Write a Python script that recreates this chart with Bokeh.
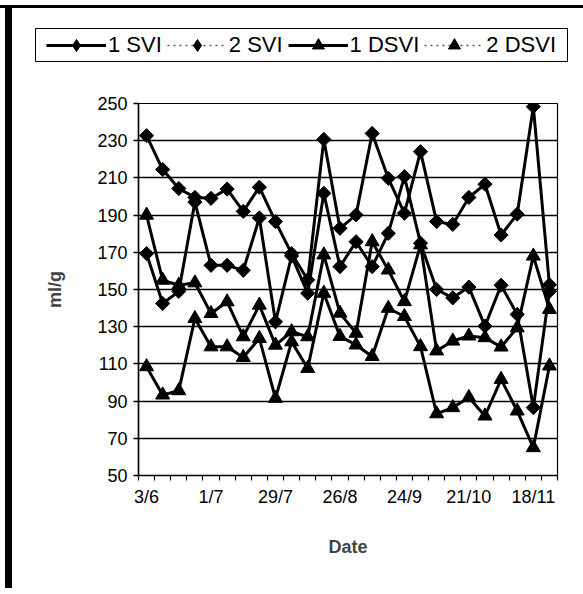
import numpy as np
from bokeh.plotting import figure
from bokeh.layouts import column, row
from bokeh.models import FixedTicker, Legend, LegendItem, ColumnDataSource, Div
from bokeh.embed import file_html
from bokeh.resources import INLINE

# ---- data ----
dates = ["3/6", "1/7", "29/7", "26/8", "24/9", "21/10", "18/11"]
label_idx = [0, 4, 8, 12, 16, 20, 24]
n_points = 26
svi_1 = [232.7, 214.5, 204.3, 199.5, 199.0, 204.0, 192.0, 205.0, 186.5, 169.3, 155.2, 230.7, 182.9,
         190.1, 233.9, 209.8, 191.0, 224.1, 186.5, 185.0, 199.5, 206.6, 179.3, 190.5, 248.3, 152.5]
svi_2 = [169.3, 142.5, 149.0, 197.0, 163.0, 163.0, 160.3, 188.5, 132.6, 168.0, 148.0, 201.7, 162.3,
         175.7, 162.3, 180.2, 210.7, 174.9, 150.0, 145.5, 151.3, 130.3, 152.3, 136.6, 86.5, 149.0]
dsvi_1 = [190.0, 155.0, 152.3, 153.6, 137.1, 143.4, 124.6, 141.6, 120.1, 127.3, 124.6, 168.6, 137.3,
          126.5, 175.7, 160.5, 143.5, 174.0, 117.0, 122.3, 125.0, 124.1, 119.1, 129.4, 168.0, 139.3]
dsvi_2 = [108.5, 93.3, 95.6, 134.4, 119.2, 119.2, 113.5, 123.7, 91.5, 121.9, 107.6, 148.0, 124.8,
          120.2, 114.0, 139.9, 135.5, 119.3, 83.2, 86.5, 91.9, 82.0, 101.7, 84.7, 65.0, 108.9]
series_names = ["1 SVI", "2 SVI", "1 DSVI", "2 DSVI"]
y_ticks = list(range(50, 251, 20))

x = list(range(n_points))
FONT = "Liberation Sans"
series = [svi_1, svi_2, dsvi_1, dsvi_2]
markers = ["square", "square", "triangle", "triangle"]
angles = [np.pi / 4, np.pi / 4, 0, 0]
msizes = [10, 10, 14, 14]

KEY_H = 54
MAIN_H = 526


def edge(width, height, margin):
    return Div(text="", width=width, height=height, margin=margin,
               styles={"background-color": "black"})


# ---- key (legend) ----
key = figure(width=571, height=KEY_H, output_backend="svg", toolbar_location=None,
             x_axis_type=None, y_axis_type=None, x_range=(0, 1), y_range=(0, 1),
             min_border_left=23, min_border_right=16, min_border_top=20, min_border_bottom=0)
key.background_fill_color = "white"
key.border_fill_color = "white"
key.outline_line_color = "black"
key.outline_line_width = 1
items = []
leg_markers = ["diamond", "diamond", "triangle", "triangle"]
leg_sizes = [18, 18, 13, 13]
leg_dash = ["solid", "dotted", "solid", "dotted"]
leg_col = ["black", "#555555", "black", "#555555"]
leg_w = [3, 1.5, 3, 1.5]
for name, mk, ms, dash, col, w in zip(series_names, leg_markers, leg_sizes, leg_dash, leg_col, leg_w):
    ghost = ColumnDataSource(dict(x=[np.nan], y=[np.nan]))
    r1 = key.line("x", "y", source=ghost, line_color=col, line_width=w, line_dash=dash)
    r2 = key.scatter("x", "y", source=ghost, marker=mk, size=ms,
                     fill_color="black", line_color="black")
    items.append(LegendItem(label=name, renderers=[r1, r2]))
legend = Legend(items=items, orientation="horizontal", location="center",
                glyph_width=60, glyph_height=30, label_standoff=2, spacing=5,
                padding=2, margin=0,
                label_text_font=FONT, label_text_font_size="22px", label_text_color="black",
                border_line_color=None, background_fill_alpha=0)
key.add_layout(legend, "center")

# ---- main chart ----
p = figure(width=571, height=MAIN_H, output_backend="svg", toolbar_location=None,
           x_range=(-0.5, n_points - 0.5), y_range=(50, 250),
           min_border_left=126, min_border_right=26, min_border_top=41, min_border_bottom=113)
p.background_fill_color = "white"
p.border_fill_color = "white"
p.outline_line_color = "black"
p.outline_line_width = 1.2

p.xgrid.grid_line_color = None
p.ygrid.grid_line_color = "black"
p.ygrid.grid_line_width = 1.5
p.ygrid.ticker = FixedTicker(ticks=y_ticks)

p.yaxis.ticker = FixedTicker(ticks=y_ticks)
p.yaxis.axis_line_color = "black"
p.yaxis.axis_line_width = 1.5
p.yaxis.major_tick_in = 0
p.yaxis.major_tick_out = 5
p.yaxis.major_tick_line_width = 1.5
p.yaxis.minor_tick_line_color = None
p.yaxis.major_label_text_font = FONT
p.yaxis.major_label_text_font_size = "18px"
p.yaxis.major_label_text_color = "black"
p.yaxis.major_label_standoff = 6
p.yaxis.axis_label = "ml/g"
p.yaxis.axis_label_text_font = FONT
p.yaxis.axis_label_text_font_size = "18px"
p.yaxis.axis_label_text_font_style = "bold"
p.yaxis.axis_label_standoff = 29

boundaries = [i - 0.5 for i in range(n_points + 1)]
p.xaxis.ticker = FixedTicker(ticks=label_idx, minor_ticks=boundaries)
p.xaxis.major_label_overrides = {i: d for i, d in zip(label_idx, dates)}
p.xaxis.axis_line_color = "black"
p.xaxis.axis_line_width = 1.5
p.xaxis.major_tick_in = 0
p.xaxis.major_tick_out = 0
p.xaxis.minor_tick_in = 0
p.xaxis.minor_tick_out = 5
p.xaxis.minor_tick_line_color = "black"
p.xaxis.minor_tick_line_width = 1.2
p.xaxis.major_label_text_font = FONT
p.xaxis.major_label_text_font_size = "18px"
p.xaxis.major_label_text_color = "black"
p.xaxis.major_label_standoff = 6
p.xaxis.axis_label = "Date"
p.xaxis.axis_label_text_font = FONT
p.xaxis.axis_label_text_font_size = "18px"
p.xaxis.axis_label_text_font_style = "bold"
p.xaxis.axis_label_standoff = 27

for vals, mk, ang, ms in zip(series, markers, angles, msizes):
    src = ColumnDataSource(dict(x=x, y=vals))
    p.line("x", "y", source=src, line_color="black", line_width=3)
    p.scatter("x", "y", source=src, marker=mk, angle=ang, size=ms,
              fill_color="black", line_color="black")

# edges of the scanned sheet (top rule and left bar) around the chart
page = column(
    edge(583, 3, (5, 0, 0, 0)),
    row(edge(7, KEY_H, (0, 0, 0, 5)), key, spacing=0),
    row(edge(7, MAIN_H, (0, 0, 0, 5)), p, spacing=0),
    spacing=0,
)
open("out.html", "w").write(file_html(page, INLINE))
